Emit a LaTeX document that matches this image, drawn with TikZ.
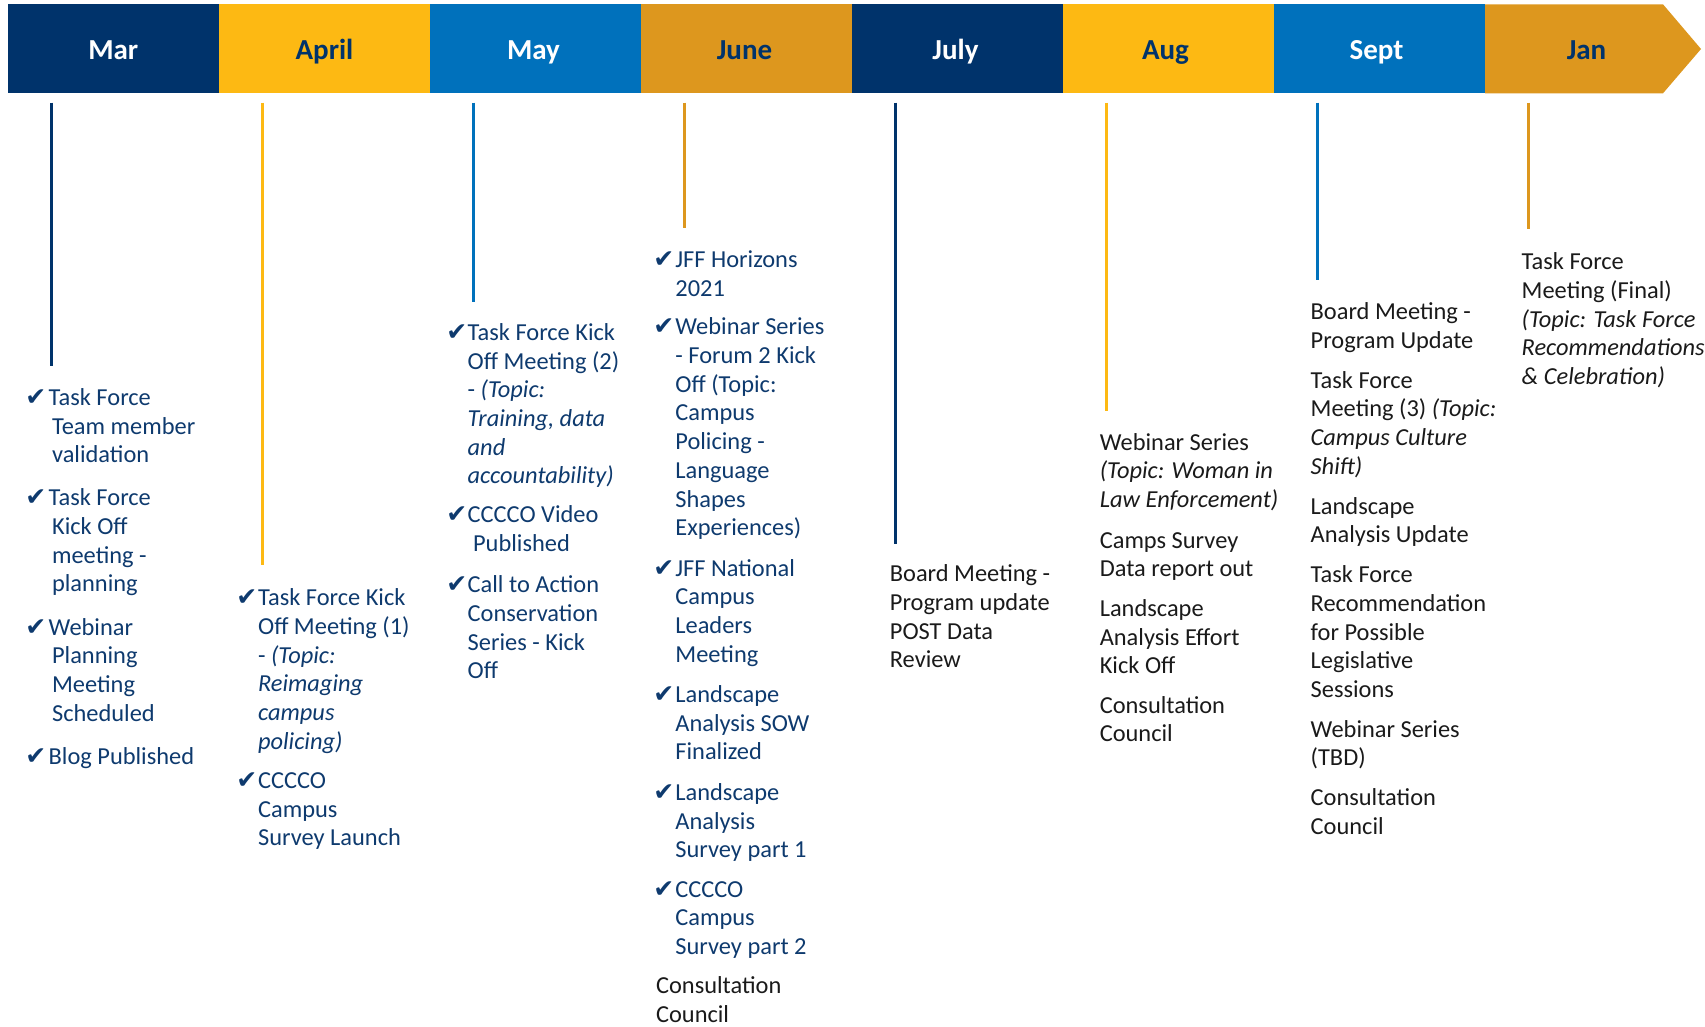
\documentclass[tikz,border=0pt]{standalone}
\usepackage{fontspec}
\setmainfont{Carlito}
\newfontfamily\symfam{DejaVu Sans}
\definecolor{mnavy}{HTML}{00336B}
\definecolor{mgold}{HTML}{FDB913}
\definecolor{mblue}{HTML}{0071BC}
\definecolor{mdkgold}{HTML}{DD971E}
\definecolor{tnavy}{HTML}{0E3A6E}
\definecolor{ink}{HTML}{1A1A1A}
\newcommand{\blk}[1]{\begin{tabular}[t]{@{}l@{}}#1\end{tabular}}
\tikzset{
  seg/.style={fill=#1, draw=none},
  mlab/.style={anchor=base, inner sep=0pt, text=#1, font=\bfseries\fontsize{14.5}{17}\selectfont},
  vline/.style={draw=#1, line width=1.3pt},
  chk/.style={anchor=base west, inner sep=0pt, text=tnavy, font=\symfam\fontsize{12.5}{14}\selectfont},
  itemtxt/.style={anchor=base west, inner sep=0pt, text=tnavy, font=\fontsize{12.2}{14.35}\selectfont},
  plaintxt/.style={itemtxt, text=ink}
}
\begin{document}
\begin{tikzpicture}[x=0.5pt,y=-0.5pt]
\useasboundingbox (0,0) rectangle (1705,1027);
% header bar
\fill[seg=mnavy]   (7.6,4.3) rectangle (219,93.3);
\fill[seg=mgold]   (219,4.3) rectangle (430,93.3);
\fill[seg=mblue]   (430,4.3) rectangle (641,93.3);
\fill[seg=mdkgold] (641,4.3) rectangle (852,93.3);
\fill[seg=mnavy]   (852,4.3) rectangle (1063,93.3);
\fill[seg=mgold]   (1063,4.3) rectangle (1274,93.3);
\fill[seg=mblue]   (1274,4.3) rectangle (1485,93.3);
\fill[seg=mdkgold] (1485,4.3) -- (1663,4.3) -- (1701,49) -- (1663,93.3) -- (1485,93.3) -- cycle;
% month labels
\node[mlab=white] (mar)  at (113.3,59.3) {Mar};
\node[mlab=mnavy] (apr)  at (324.5,59.3) {April};
\node[mlab=white] (may)  at (533.5,59.3) {May};
\node[mlab=mnavy] (jun)  at (744.5,59.3) {June};
\node[mlab=white] (jul)  at (955.5,59.3) {July};
\node[mlab=mnavy] (aug)  at (1165.5,59.3) {Aug};
\node[mlab=white] (sep)  at (1376.5,59.3) {Sept};
\node[mlab=mnavy] (jan)  at (1586.5,59.3) {Jan};
% vertical lines
\draw[vline=mnavy]   (51.7,102.7) -- (51.7,366.5);
\draw[vline=mgold]   (262.7,102.7) -- (262.7,565.4);
\draw[vline=mblue]   (473.7,102.7) -- (473.7,302.3);
\draw[vline=mdkgold] (684.7,102.7) -- (684.7,228.4);
\draw[vline=mnavy]   (895.7,102.7) -- (895.7,543.7);
\draw[vline=mgold]   (1106.7,102.7) -- (1106.7,411);
\draw[vline=mblue]   (1317.7,102.7) -- (1317.7,280.5);
\draw[vline=mdkgold] (1528.7,102.7) -- (1528.7,229.4);
% March
\node[chk] (c1a) at (25,405.6) {✔};
\node[itemtxt] (t1a) at (51.7,405.6) {\blk{\hspace*{-1.7pt}Task Force\\Team member\\validation}};
\node[chk] (c1b) at (25,505.6) {✔};
\node[itemtxt] (t1b) at (51.7,505.6) {\blk{\hspace*{-1.7pt}Task Force\\Kick Off\\meeting -\\planning}};
\node[chk] (c1c) at (25,635.0) {✔};
\node[itemtxt] (t1c) at (51.7,635.0) {\blk{\hspace*{-1.7pt}Webinar\\Planning\\Meeting\\Scheduled}};
\node[chk] (c1d) at (25,764.4) {✔};
\node[itemtxt] (t1d) at (51.7,764.4) {\blk{\hspace*{-1.7pt}Blog Published}};
% April
\node[chk] (c2a) at (236,605.7) {✔};
\node[itemtxt] (t2a) at (257.7,605.7) {\blk{Task Force Kick\\Off Meeting (1)\\- \textit{(Topic:}\\\textit{Reimaging}\\\textit{campus}\\\textit{policing)}}};
\node[chk] (c2b) at (236,788.4) {✔};
\node[itemtxt] (t2b) at (257.7,788.4) {\blk{CCCCO\\Campus\\Survey Launch}};
% May
\node[chk] (c3a) at (446,340.4) {✔};
\node[itemtxt] (t3a) at (467.3,340.4) {\blk{Task Force Kick\\Off Meeting (2)\\- \textit{(Topic:}\\\textit{Training, data}\\\textit{and}\\\textit{accountability)}}};
\node[chk] (c3b) at (446,523.0) {✔};
\node[itemtxt] (t3b) at (467.3,523.0) {\blk{CCCCO Video\\\hspace*{2.7pt}Published}};
\node[chk] (c3c) at (446,592.6) {✔};
\node[itemtxt] (t3c) at (467.3,592.6) {\blk{Call to Action\\Conservation\\Series - Kick\\Off}};
% June
\node[chk] (c4a) at (653,267.5) {✔};
\node[itemtxt] (t4a) at (675,267.5) {\blk{JFF Horizons\\2021}};
\node[chk] (c4b) at (653,334.9) {✔};
\node[itemtxt] (t4b) at (675,334.9) {\blk{Webinar Series\\- Forum 2 Kick\\Off (Topic:\\Campus\\Policing -\\Language\\Shapes\\Experiences)}};
\node[chk] (c4c) at (653,576.3) {✔};
\node[itemtxt] (t4c) at (675,576.3) {\blk{JFF National\\Campus\\Leaders\\Meeting}};
\node[chk] (c4d) at (653,702.5) {✔};
\node[itemtxt] (t4d) at (675,702.5) {\blk{Landscape\\Analysis SOW\\Finalized}};
\node[chk] (c4e) at (653,800.3) {✔};
\node[itemtxt] (t4e) at (675,800.3) {\blk{Landscape\\Analysis\\Survey part 1}};
\node[chk] (c4f) at (653,897.1) {✔};
\node[itemtxt] (t4f) at (675,897.1) {\blk{CCCCO\\Campus\\Survey part 2}};
\node[plaintxt] (t4g) at (655.7,993.9) {\blk{Consultation\\Council}};
% July
\node[plaintxt] (t5a) at (889.5,581.8) {\blk{Board Meeting -\\Program update\\POST Data\\Review}};
% August
\node[plaintxt] (t6a) at (1099.4,450.2) {\blk{Webinar Series\\\textit{(Topic: Woman in}\\\textit{Law Enforcement)}}};
\node[plaintxt] (t6b) at (1099.4,548.0) {\blk{Camps Survey\\Data report out}};
\node[plaintxt] (t6c) at (1099.4,616.5) {\blk{Landscape\\Analysis Effort\\Kick Off}};
\node[plaintxt] (t6d) at (1099.4,713.3) {\blk{Consultation\\Council}};
% September
\node[plaintxt] (t7a) at (1310.3,319.7) {\blk{Board Meeting -\\Program Update}};
\node[plaintxt] (t7b) at (1310.3,388.2) {\blk{Task Force\\Meeting (3) \textit{(Topic:}\\\textit{Campus Culture}\\\textit{Shift)}}};
\node[plaintxt] (t7c) at (1310.3,514.3) {\blk{Landscape\\Analysis Update}};
\node[plaintxt] (t7d) at (1310.3,582.8) {\blk{Task Force\\Recommendation\\for Possible\\Legislative\\Sessions}};
\node[plaintxt] (t7e) at (1310.3,737.3) {\blk{Webinar Series\\(TBD)}};
\node[plaintxt] (t7f) at (1310.3,805.8) {\blk{Consultation\\Council}};
% January
\node[plaintxt] (t8a) at (1521.3,269.7) {\blk{Task Force\\Meeting (Final)\\\textit{(Topic: Task Force}\\\textit{Recommendations}\\\textit{\& Celebration)}}};
\end{tikzpicture}
\end{document}
